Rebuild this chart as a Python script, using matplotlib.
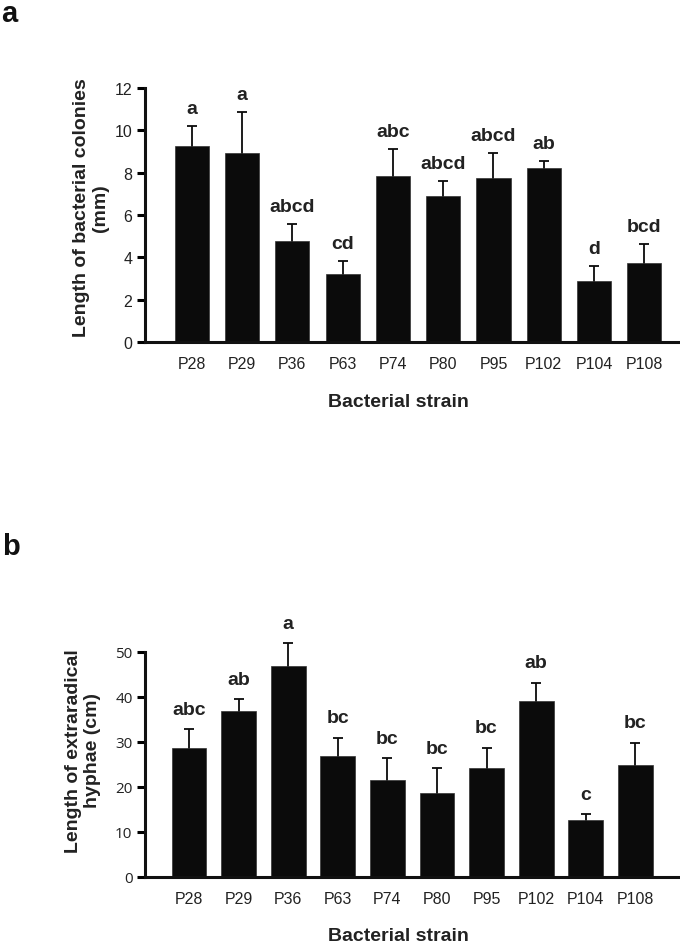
"""
Bar charts: bacterial colony length (a) and extraradical hyphae length (b)
"""
import matplotlib
matplotlib.use("Agg")
import matplotlib.pyplot as plt
import numpy as np

plt.rcParams["font.family"] = ["Liberation Sans", "DejaVu Sans"]

strains = ["P28", "P29", "P36", "P63", "P74", "P80", "P95", "P102", "P104", "P108"]

# panel a: colony length (mm)
colony_mean = [9.27, 8.94, 4.77, 3.2, 7.83, 6.88, 7.76, 8.22, 2.88, 3.75]
colony_top = [10.22, 10.85, 5.56, 3.82, 9.1, 7.6, 8.94, 8.55, 3.6, 4.63]
colony_letters = ["a", "a", "abcd", "cd", "abc", "abcd", "abcd", "ab", "d", "bcd"]

# panel b: extraradical hyphae length (cm)
hyphae_mean = [28.6, 36.75, 46.75, 26.75, 21.6, 18.6, 24.15, 39.0, 12.7, 24.9]
hyphae_top = [32.75, 39.5, 51.9, 30.9, 26.4, 24.2, 28.7, 43.1, 13.85, 29.8]
hyphae_letters = ["abc", "ab", "a", "bc", "bc", "bc", "bc", "ab", "c", "bc"]

BAR = "#0b0b0b"
W, H = 680, 945


def fx(px):
    return px / W


def fy(py):
    return 1 - py / H


def draw_panel(ax, mean, top, letters, ymax, step, xlim, width, gap):
    x = np.arange(len(strains))
    mean = np.array(mean)
    up = np.array(top) - mean
    ax.bar(x, mean, width=width, color=BAR, edgecolor="#333333", linewidth=0.5, zorder=2)
    # symmetric error bar drawn behind the bar, so only the upper half shows
    eb = ax.errorbar(x, mean, yerr=up, fmt="none", ecolor=BAR,
                     elinewidth=1.3, capsize=3.5, capthick=1.3, zorder=1)
    for art in eb.lines[1] + eb.lines[2]:
        art.set_clip_on(False)
    for xi, t, lab in zip(x, top, letters):
        ax.annotate(lab, xy=(xi, t), xytext=(0, gap), textcoords="offset points",
                    ha="center", va="baseline", fontsize=14, fontweight="bold",
                    color="#222222", annotation_clip=False)
    ax.set_xlim(*xlim)
    ax.set_ylim(0, ymax)
    ax.set_yticks(np.arange(0, ymax + 0.01, step))
    ax.set_xticks(x)
    ax.set_xticklabels(strains, fontsize=11.5, color="#222222")
    for s in ["top", "right"]:
        ax.spines[s].set_visible(False)
    for s in ["left", "bottom"]:
        ax.spines[s].set_linewidth(2.2)
        ax.spines[s].set_color("#111111")
    ax.tick_params(axis="x", length=0, pad=10)
    ax.tick_params(axis="y", length=6, width=2.2, direction="out", pad=3,
                   labelsize=11.5, labelcolor="#222222")


fig = plt.figure(figsize=(6.8, 9.45), dpi=100)

# panel a
ax1 = fig.add_axes([fx(145), fy(343), fx(678 - 145), (343 - 89) / H])
draw_panel(ax1, colony_mean, colony_top, colony_letters, 12, 2,
           (-0.93, 9.67), 0.68, 9.4)

# panel b
ax2 = fig.add_axes([fx(145), fy(877.7), fx(678 - 145), (877.7 - 652.7) / H])
draw_panel(ax2, hyphae_mean, hyphae_top, hyphae_letters, 50, 10,
           (-0.887, 9.86), 0.7, 11)
for lbl in ax2.get_yticklabels():
    lbl.set_family(["Open Sans", "DejaVu Sans"])
    lbl.set_fontsize(11)

fig.text(fx(91), fy(208), "Length of bacterial colonies\n(mm)", rotation=90,
         ha="center", va="center", fontsize=14, fontweight="bold",
         color="#222222", linespacing=1.1)
fig.text(fx(83), fy(751), "Length of extraradical\nhyphae (cm)", rotation=90,
         ha="center", va="center", fontsize=14, fontweight="bold",
         color="#222222", linespacing=1.1)

fig.text(fx(398), fy(403), "Bacterial strain", ha="center", va="center",
         fontsize=14, fontweight="bold", color="#222222")
fig.text(fx(398), fy(937), "Bacterial strain", ha="center", va="center",
         fontsize=14, fontweight="bold", color="#222222")

fig.text(fx(1), fy(0.5), "a", ha="left", va="top", fontsize=21,
         fontweight="bold", color="#111111")
fig.text(fx(2), fy(555), "b", ha="left", va="baseline", fontsize=21,
         fontweight="bold", color="#111111")

fig.savefig("out.png", dpi=100, facecolor="white")
